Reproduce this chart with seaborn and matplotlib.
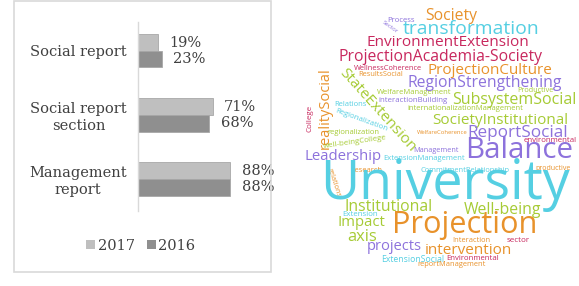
import pandas as pd
import matplotlib
matplotlib.use("Agg")
import matplotlib.pyplot as plt
import seaborn as sns
from matplotlib.patches import Rectangle

# data: share of universities by report type
categories = ["Social report", "Social report\nsection", "Management\nreport"]
values_2017 = [19, 71, 88]
values_2016 = [23, 68, 88]
years = ["2017", "2016"]

# word cloud words and their color group
words = ["Society", "Process", "Sector", "transformation", "EnvironmentExtension",
         "ProjectionAcademia-Society", "ProjectionCulture", "WellnessCoherence",
         "ResultsSocial", "StateExtension", "realitySocial", "College", "Relations",
         "Regionalization", "regionalization", "well-beingCollege", "WelfareManagement",
         "interactionBuilding", "RegionStrengthening", "Productive", "SubsystemSocial",
         "internationalizationManagement", "SocietyInstitutional", "WelfareCoherence",
         "ReportSocial", "environmental", "Balance", "Management", "Leadership",
         "ExtensionManagement", "Research", "relations", "CommitmentRelationship",
         "productive", "University", "Institutional", "Well-being", "Extension",
         "Impact", "Projection", "axis", "projects", "Interaction", "sector",
         "intervention", "ExtensionSocial", "Environmental", "reportManagement"]
word_colors = ["orange", "purple", "purple", "cyan", "crimson",
               "crimson", "orange", "crimson",
               "orange", "green", "orange", "crimson", "cyan",
               "cyan", "green", "green", "green",
               "purple", "purple", "green", "green",
               "green", "green", "orange",
               "purple", "crimson", "purple", "purple", "purple",
               "cyan", "orange", "orange", "cyan",
               "orange", "cyan", "green", "green", "cyan",
               "green", "orange", "green", "purple", "orange", "crimson",
               "orange", "cyan", "crimson", "orange"]

# layout of the cloud (pixel centre, width along text, rotation)
cloud_layout = [(451, 16, 52, 0), (401, 20, 28, 0), (390, 27, 18, -35), (471, 29, 137, 0),
                (448, 42, 162, 0), (441, 57, 203, 0), (490, 71, 125, 0), (388, 69, 68, 0),
                (381, 75, 45, 0), (378, 110, 107, -48), (325, 108, 82, 90), (310, 118, 27, 90),
                (350, 105, 33, 0), (361, 120, 55, -20), (353, 133, 53, 0), (355, 142, 64, 8),
                (414, 92, 75, 0), (413, 100, 70, 0), (485, 83, 154, 0), (535, 91, 36, 0),
                (514, 100, 125, 0), (465, 109, 116, 0), (500, 120, 136, 0), (442, 133, 50, 0),
                (518, 133, 100, 0), (550, 140, 54, 0), (519, 150, 108, 0), (436, 151, 45, 0),
                (343, 157, 77, 0), (424, 159, 82, 0), (366, 170, 32, 0), (333, 183, 30, -72),
                (465, 170, 90, 0), (553, 168, 35, 0), (445, 185, 250, 0), (389, 207, 88, 0),
                (502, 210, 77, 0), (360, 215, 36, 0), (361, 223, 48, 0), (465, 225, 145, 0),
                (362, 237, 30, 0), (394, 246, 55, 0), (471, 241, 38, 0), (518, 241, 23, 0),
                (468, 251, 87, 0), (413, 259, 63, 0), (473, 259, 53, 0), (452, 264, 68, 0)]
palette_cloud = {"orange": "#e8922b", "cyan": "#55cfe2", "crimson": "#c8285e",
                 "purple": "#8d72dc", "green": "#a6cb35"}

df = pd.DataFrame({
    "Category": categories * 2,
    "Year": [years[0]] * 3 + [years[1]] * 3,
    "Value": values_2017 + values_2016,
})

sns.set_theme(style="white")
plt.rcParams["font.family"] = ["DejaVu Serif"]

W, H = 579, 286
fig = plt.figure(figsize=(W / 100, H / 100), dpi=100)

# frame around the bar chart
fig.patches.append(Rectangle((14 / W, 1 - 272 / H), 257 / W, 271 / H, transform=fig.transFigure,
                             fill=False, edgecolor="#d9d9d9", linewidth=1.2))

ax = fig.add_axes([138 / W, 1 - 211 / H, 126 / W, 189 / H])
sns.barplot(data=df, y="Category", x="Value", hue="Year", hue_order=years, order=categories,
            palette={"2017": "#bfbfbf", "2016": "#8f8f8f"}, width=0.52, ax=ax,
            edgecolor="#a8a8a8", linewidth=0.6, orient="h")
ax.set_xlim(0, 120)
ax.set_ylim(2.5, -0.45)
ax.set_xlabel("")
ax.set_ylabel("")
ax.set_xticks([])
for s in ["top", "right", "bottom"]:
    ax.spines[s].set_visible(False)
ax.spines["left"].set_color("#d9d9d9")
ax.spines["left"].set_linewidth(1.0)
ax.tick_params(axis="y", length=0, pad=8, labelsize=10.5, labelcolor="#404040")
for lbl in ax.get_yticklabels():
    lbl.set_multialignment("center")
for cont in ax.containers:
    ax.bar_label(cont, fmt="%g%%", padding=8, fontsize=10.5, color="#404040")

leg = ax.legend(loc="center", bbox_to_anchor=(141 / W, 1 - 246 / H), bbox_transform=fig.transFigure,
                ncol=2, frameon=False, fontsize=10.5, handlelength=0.6, handleheight=0.6,
                handletextpad=0.2, columnspacing=0.8, labelcolor="#404040")
for h in leg.legend_handles:
    h.set_edgecolor("none")

# word cloud drawn as text on a pixel-space axes
wc = fig.add_axes([0, 0, 1, 1])
wc.set_xlim(0, W)
wc.set_ylim(H, 0)
wc.axis("off")
renderer = fig.canvas.get_renderer()
for word, col, (cx, cy, width, rot) in zip(words, word_colors, cloud_layout):
    t = wc.text(cx, cy, word, ha="center", va="center", fontsize=10, family="Open Sans",
                color=palette_cloud[col], rotation=0, rotation_mode="anchor")
    w0 = t.get_window_extent(renderer).width
    t.set_fontsize(10 * width / w0)
    t.set_rotation(rot)

fig.savefig("out.png", dpi=100)
